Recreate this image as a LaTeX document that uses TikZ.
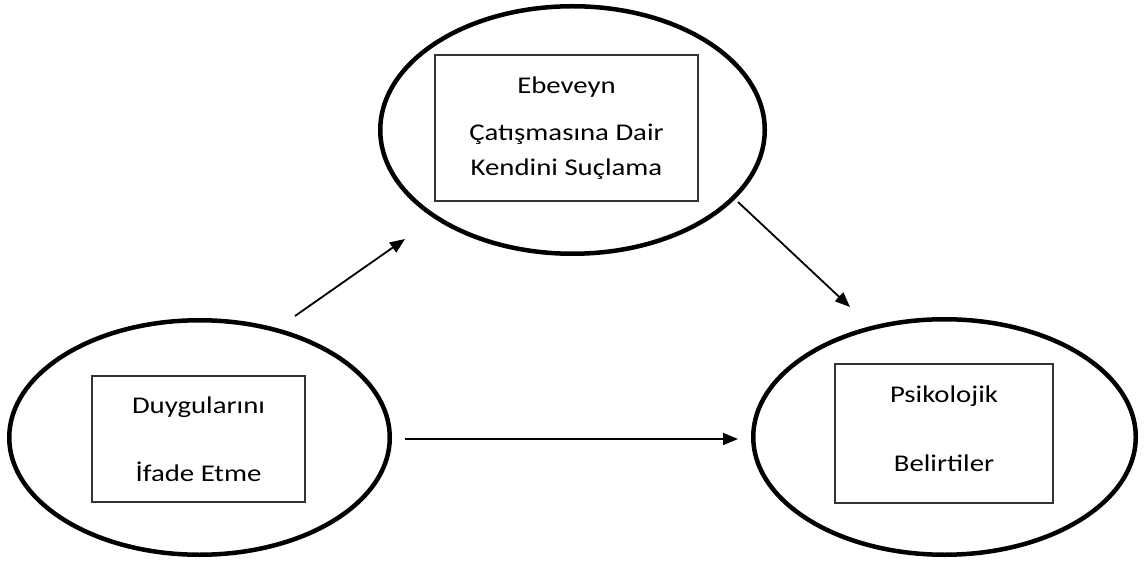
\documentclass[tikz,border=0pt]{standalone}
\usepackage{fontspec}
\setmainfont{Carlito}[FakeStretch=1.2]
\usepackage{tikz}
\usetikzlibrary{arrows.meta,shapes.geometric}
\tikzset{
  kav_e/.style = {ellipse, draw=black, line width=2.25pt, inner sep=0pt},% kavram, elips
  kav_k/.style = {rectangle, draw=black!80, line width=0.6pt, align=center,
    inner sep=0pt, font=\fontsize{12pt}{34pt}\selectfont},% kavram, kutu
}

\begin{document}
\begin{tikzpicture}[x=0.5pt,y=-0.5pt,->,>={Triangle[length=7.5pt,width=6pt]},line width=0.9pt]
\useasboundingbox (0,0) rectangle (1144,566);
% ust kavram
\node [kav_e, minimum width=192.25pt, minimum height=123.75pt] (ebv) at (572.5,130) {};
\node [kav_k, minimum width=131.5pt, minimum height=73pt,
  font=\fontsize{12pt}{17.5pt}\selectfont] (ebv_k) at (566.5,128)
  {Ebeveyn\\[6pt]Çatışmasına Dair\\Kendini Suçlama};
% sol kavram
\node [kav_e, minimum width=190.25pt, minimum height=117.25pt] (duy) at (199.5,437.5) {};
\node [kav_k, minimum width=106.5pt, minimum height=63pt] (duy_k) at (198.5,439)
  {Duygularını\\İfade Etme};
% sag kavram
\node [kav_e, minimum width=191.25pt, minimum height=117.75pt] (psk) at (944.5,437) {};
\node [kav_k, minimum width=109pt, minimum height=69.5pt, text depth=4.5pt,
  font=\fontsize{12pt}{34.5pt}\selectfont] (psk_k) at (944,433.5)
  {Psikolojik\\Belirtiler};
% oklar
\coordinate (duy_c) at (295,316);
\coordinate (ebv_g) at (405,239);
\coordinate (ebv_c) at (738,202);
\coordinate (psk_g) at (850,307);
\coordinate (duy_c2) at (405,439);
\coordinate (psk_g2) at (738,439);
\draw (duy_c) -- (ebv_g);
\draw (ebv_c) -- (psk_g);
\draw (duy_c2) -- (psk_g2);
\end{tikzpicture}
\end{document}
